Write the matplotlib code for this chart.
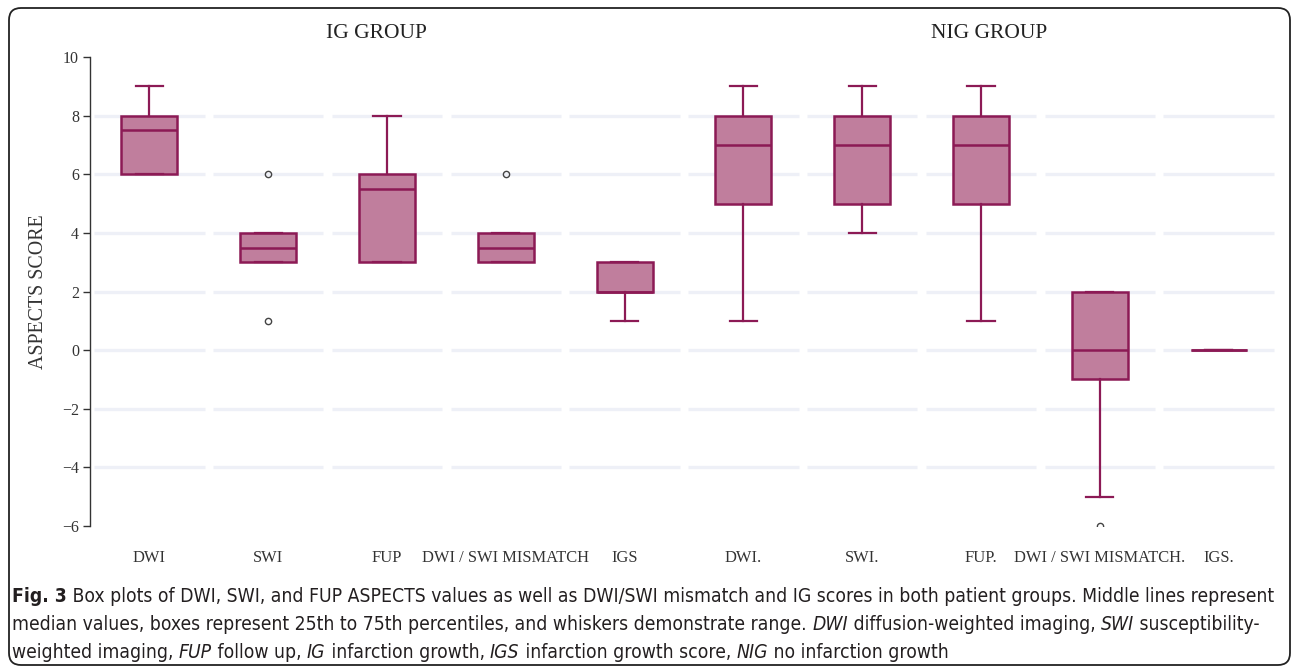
import matplotlib
matplotlib.use("Agg")
import matplotlib.pyplot as plt
from matplotlib import font_manager
from matplotlib.patches import FancyBboxPatch
from matplotlib.transforms import IdentityTransform

# categories (IG group then NIG group)
labels = ["DWI", "SWI", "FUP", "DWI / SWI MISMATCH", "IGS",
          "DWI.", "SWI.", "FUP.", "DWI / SWI MISMATCH.", "IGS."]
whislo = [6, 3, 3, 3, 1, 1, 4, 1, -5, 0]
q1 = [6, 3, 3, 3, 2, 5, 5, 5, -1, 0]
med = [7.5, 3.5, 5.5, 3.5, 2, 7, 7, 7, 0, 0]
q3 = [8, 4, 6, 4, 3, 8, 8, 8, 2, 0]
whishi = [9, 4, 8, 4, 3, 9, 9, 9, 2, 0]
fliers = [[], [6, 1], [], [6], [], [], [], [], [-6], []]
yticks = [-6, -4, -2, 0, 2, 4, 6, 8, 10]
grid_y = [-4, -2, 0, 2, 4, 6, 8]

line_c = "#8c1a55"
fill_c = "#c07e9d"
serif = "Liberation Serif"

# pick a narrow sans for the caption if one is installed
names = {f.name for f in font_manager.fontManager.ttflist}
cap_font, cap_stretch = "Open Sans", "normal"
if "Liberation Sans Narrow" in names:
    cap_font = "Liberation Sans Narrow"
elif any(f.name == "DejaVu Sans" and f.stretch == "condensed"
         for f in font_manager.fontManager.ttflist):
    cap_font, cap_stretch = "DejaVu Sans", "condensed"

fig = plt.figure(figsize=(12.92, 6.68), dpi=100)
ax = fig.add_axes([90 / 1292, 142 / 668, (1276.6 - 88.6) / 1292, 469 / 668])

stats = []
for i in range(len(labels)):
    stats.append(dict(label=labels[i], whislo=whislo[i], q1=q1[i], med=med[i],
                      q3=q3[i], whishi=whishi[i], fliers=fliers[i]))

pos = list(range(len(labels)))
ax.bxp(stats, positions=pos, widths=0.47, capwidths=0.23, patch_artist=True,
       boxprops=dict(facecolor=fill_c, edgecolor=line_c, linewidth=1.8),
       medianprops=dict(color=line_c, linewidth=1.8),
       whiskerprops=dict(color=line_c, linewidth=1.6),
       capprops=dict(color=line_c, linewidth=1.6),
       flierprops=dict(marker="o", markersize=4.5, markerfacecolor="none",
                       markeredgecolor="#444444", markeredgewidth=1.0),
       zorder=3)

# gridlines broken at each category
for p in pos:
    ax.hlines(grid_y, p - 0.465, p + 0.465, colors="#eef0f7", linewidth=2.4, zorder=1)

ax.set_xlim(-0.5, 9.5)
ax.set_ylim(-6, 10)
ax.set_yticks(yticks)
ax.set_yticklabels(["\u2212" + str(-v) if v < 0 else str(v) for v in yticks],
                   fontfamily=serif, fontsize=11.5, color="#333333")
ax.set_xticks(pos)
ax.set_xticklabels(labels, fontfamily=serif, fontsize=11.9, color="#333333")
ax.tick_params(axis="x", length=0, pad=17)
ax.tick_params(axis="y", length=5, width=1, color="#333333", pad=3)
for s in ["top", "right", "bottom"]:
    ax.spines[s].set_visible(False)
ax.spines["left"].set_color("#333333")
ax.spines["left"].set_linewidth(1.0)

ax.set_ylabel("ASPECTS SCORE", fontfamily=serif, fontsize=14.3, color="#333333", labelpad=10)

ax.text(1.91, 10.8, "IG GROUP", fontfamily=serif, fontsize=15.5, color="#222222",
        ha="center", va="center")
ax.text(7.07, 10.8, "NIG GROUP", fontfamily=serif, fontsize=15.5, color="#222222",
        ha="center", va="center")

# caption
cap_size = 11.0
cap_color = "#231f20"
caption = [
    [("Fig. 3", "bold", "normal"),
     (" Box plots of DWI, SWI, and FUP ASPECTS values as well as DWI/SWI mismatch and IG scores in both patient groups. Middle lines represent", "normal", "normal")],
    [("median values, boxes represent 25th to 75th percentiles, and whiskers demonstrate range. ", "normal", "normal"),
     ("DWI", "normal", "italic"), (" diffusion-weighted imaging, ", "normal", "normal"),
     ("SWI", "normal", "italic"), (" susceptibility-", "normal", "normal")],
    [("weighted imaging, ", "normal", "normal"), ("FUP", "normal", "italic"),
     (" follow up, ", "normal", "normal"), ("IG", "normal", "italic"),
     (" infarction growth, ", "normal", "normal"), ("IGS", "normal", "italic"),
     (" infarction growth score, ", "normal", "normal"), ("NIG", "normal", "italic"),
     (" no infarction growth", "normal", "normal")],
]
line_y = [597, 625, 652]
cap_texts = []
line_ends = []
for yy, parts in zip(line_y, caption):
    last = None
    for txt, wt, st in parts:
        kw = dict(fontfamily=cap_font, fontstretch=cap_stretch, fontsize=cap_size,
                  fontweight=wt, fontstyle=st, color=cap_color, va="center", ha="left")
        if last is None:
            t = fig.text(12 / 1292, 1 - yy / 668, txt, **kw)
        else:
            t = fig.add_artist(plt.Annotation(txt, xy=(1, 0.5), xycoords=last, **kw))
        cap_texts.append(t)
        last = t
    line_ends.append(last)

# scale the caption so the first line spans the same width as in the figure
fig.canvas.draw()
r = fig.canvas.get_renderer()
x0 = cap_texts[0].get_window_extent(r).x0
x1 = line_ends[0].get_window_extent(r).x1
scale = (1277 - 12) / (x1 - x0)
for t in cap_texts:
    t.set_fontsize(cap_size * scale)

border = FancyBboxPatch((9, 3), 1281, 657, boxstyle="round,pad=0,rounding_size=12",
                        transform=IdentityTransform(), fill=False, ec="#222222", lw=1.3)
fig.add_artist(border)

fig.savefig("out.png", dpi=100)
